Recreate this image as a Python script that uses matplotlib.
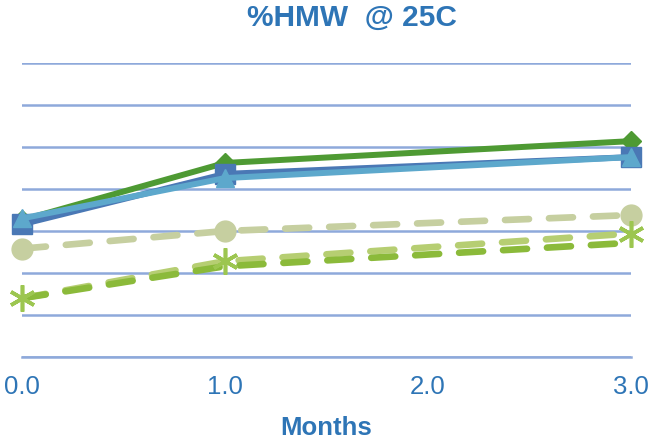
import matplotlib
matplotlib.use("Agg")
import matplotlib.pyplot as plt

plt.rcParams['font.family'] = ['Liberation Sans', 'DejaVu Sans']

months = [0.0, 1.0, 3.0]
tick_labels = ["0.0", "1.0", "2.0", "3.0"]

lot_a = [1.63, 2.31, 2.57]   # solid green, diamonds
lot_b = [1.58, 2.18, 2.38]   # solid blue, squares
lot_c = [1.65, 2.13, 2.38]   # solid aqua, triangles
lot_d = [1.29, 1.50, 1.69]   # dashed beige, circles
lot_e = [0.70, 1.14, 1.47]   # dashed light green, asterisks
lot_f = [0.70, 1.08, 1.36]   # dashed green

blue_text = "#2E75B6"
grid_col = "#8EA9DB"

fig = plt.figure(figsize=(6.51, 4.43), dpi=100)
ax = fig.add_axes([22/651, 1-357/443, (631-22)/651, (357-63)/443])

solid_kw = dict(lw=4.3, solid_capstyle='round', solid_joinstyle='round', clip_on=False)
dash_kw = dict(lw=4.8, dashes=(3.6, 3.0), dash_capstyle='round', clip_on=False)

ax.plot(months, lot_a, color="#4E9A33", marker='D', ms=10, **solid_kw, zorder=3)
ax.plot(months, lot_b, color="#4A78B5", marker='s', ms=14, **solid_kw, zorder=4)
ax.plot(months, lot_c, color="#5DA8CC", marker='^', ms=13, **solid_kw, zorder=5)
ax.plot(months, lot_d, color="#C6CFA0", marker='o', ms=15, **dash_kw, zorder=3)
ax.plot(months, lot_e, color="#B6CE72", marker=None, **dash_kw, zorder=3)
ax.plot(months, lot_f, color="#8BBA3A", marker=None, **dash_kw, zorder=3)
ax.plot(months, lot_e, color="#9CC650", marker=(6, 2, 0), ms=19, mew=2.6,
        lw=0, clip_on=False, zorder=6)

ax.set_xlim(0, 3)
ax.set_ylim(0, 3.5)
ax.set_xticks([0, 1, 2, 3])
ax.set_xticklabels(tick_labels)
ax.set_yticks([i * 0.5 for i in range(8)])
ax.set_yticklabels([])
ax.yaxis.grid(True, color=grid_col, lw=1.8)
ax.set_axisbelow(True)
for s in ['left', 'right', 'top']:
    ax.spines[s].set_visible(False)
ax.spines['bottom'].set_color(grid_col)
ax.spines['bottom'].set_linewidth(1.8)
ax.tick_params(axis='both', length=0)
ax.tick_params(axis='x', labelsize=18.5, labelcolor=blue_text, pad=13)

ax.set_xlabel("Months", fontsize=18.5, fontweight='bold', color=blue_text, labelpad=12)
fig.text(0.54, 1-18/443, "%HMW  @ 25C", ha='center', va='center',
         fontsize=21.5, fontweight='bold', color=blue_text)

fig.savefig("out.png", dpi=100)
